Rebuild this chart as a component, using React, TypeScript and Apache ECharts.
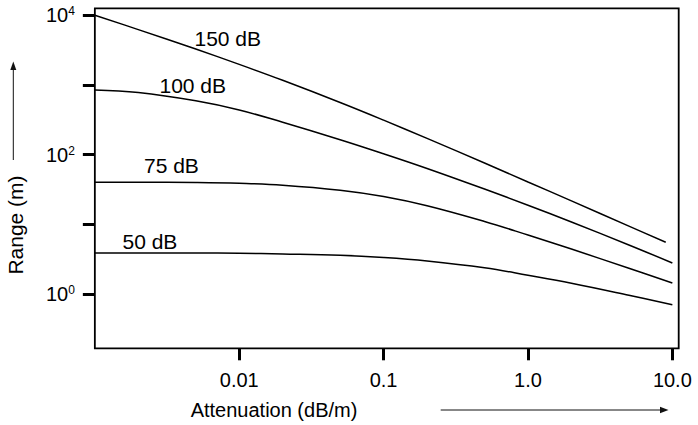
import { useEffect, useRef } from "react";
import * as echarts from "echarts";

// Attenuation (dB/m) sample points
const attenuation = [0.001, 0.002, 0.005, 0.01, 0.02, 0.05, 0.1, 0.2, 0.5, 1, 2, 5, 10];
const attenuation150 = [0.001, 0.002, 0.005, 0.01, 0.02, 0.05, 0.1, 0.2, 0.5, 1, 2, 5, 9];

// Range (m) for each loss level
const range150 = [10000, 6237, 3281, 1977, 1167, 561, 313, 171, 75.9, 40.6, 21.7, 9.44, 5.53];
const range100 = [847, 780, 593, 438, 292, 164, 103, 63.4, 32.1, 18.8, 10.8, 5.06, 2.79];
const range75 = [40.1, 40.1, 39.8, 38.8, 36.5, 30.9, 25.1, 18.5, 11.0, 7.03, 4.42, 2.34, 1.44];
const range50 = [3.87, 3.87, 3.87, 3.84, 3.75, 3.59, 3.34, 2.98, 2.38, 1.86, 1.43, 0.96, 0.7];

const seriesNames = ["150 dB", "100 dB", "75 dB", "50 dB"];

// Axis ticks
const xTickValues = [0.01, 0.1, 1, 10];
const xTickLabels = ["0.01", "0.1", "1.0", "10.0"];
const yTickValues = [1, 10, 100, 1000, 10000];
const yLabelValues = [1, 100, 10000];

const FONT = "'Liberation Sans', Arial, Helvetica, sans-serif";
const lg = (v: number) => Math.log10(v);

export default function App() {
  const ref = useRef<HTMLDivElement>(null);

  useEffect(() => {
    const chart = echarts.init(ref.current!, null, { renderer: "svg" });
    const mk = (xs: number[], ys: number[]) => xs.map((x, i) => [lg(x), lg(ys[i])]);
    const datasets = [
      mk(attenuation150, range150),
      mk(attenuation, range100),
      mk(attenuation, range75),
      mk(attenuation, range50),
    ];

    const xLabelMap: Record<string, string> = {};
    xTickValues.forEach((v, i) => (xLabelMap[String(Math.round(lg(v)))] = xTickLabels[i]));

    const curveLabel = (text: string, x: number, y: number) => ({
      type: "text",
      x,
      y,
      style: {
        text,
        fontSize: 21,
        fontFamily: FONT,
        fill: "#000",
        align: "left",
        verticalAlign: "middle",
        textAlign: "left",
        textVerticalAlign: "middle",
      },
    });

    chart.setOption({
      animation: false,
      grid: {
        left: 94.85,
        right: 19.3,
        top: 8.3,
        bottom: 76.7,
        show: true,
        borderColor: "#000",
        borderWidth: 1.8,
        backgroundColor: "transparent",
      },
      xAxis: {
        type: "value",
        min: -3,
        max: 1.044,
        axisLine: { show: false, onZero: false },
        splitLine: { show: false },
        axisTick: {
          show: true,
          inside: false,
          length: 12,
          customValues: xTickValues.map(lg),
          lineStyle: { color: "#000", width: 3 },
        },
        axisLabel: {
          customValues: xTickValues.map(lg),
          formatter: (v: number) => xLabelMap[String(Math.round(v))] ?? "",
          margin: 22,
          fontSize: 20,
          fontFamily: FONT,
          color: "#000",
        },
      },
      yAxis: {
        type: "value",
        min: -0.779,
        max: 4.1005,
        axisLine: { show: false, onZero: false },
        splitLine: { show: false },
        axisTick: {
          show: true,
          inside: false,
          length: 12,
          customValues: yTickValues.map(lg),
          lineStyle: { color: "#000", width: 3 },
        },
        axisLabel: {
          customValues: yLabelValues.map(lg),
          formatter: (v: number) => `{b|10}{s|${Math.round(v)}}`,
          margin: 20,
          rich: {
            b: { fontSize: 20, fontFamily: FONT, color: "#000", lineHeight: 20 },
            s: { fontSize: 12, fontFamily: FONT, color: "#000", lineHeight: 15, verticalAlign: "top" },
          },
        },
      },
      series: datasets.map((data, i) => ({
        name: seriesNames[i],
        type: "line",
        data,
        showSymbol: false,
        symbol: "none",
        smooth: 0.4,
        lineStyle: { color: "#000", width: 1.5 },
        silent: true,
      })),
      graphic: [
        curveLabel(seriesNames[0], 194.5, 38.5),
        curveLabel(seriesNames[1], 159.5, 85.5),
        curveLabel(seriesNames[2], 144, 165.8),
        curveLabel(seriesNames[3], 122.5, 241.3),
        {
          type: "text",
          x: 274,
          y: 410,
          style: {
            text: "Attenuation (dB/m)",
            fontSize: 20,
            fontFamily: FONT,
            fill: "#000",
            align: "center",
            verticalAlign: "middle",
            textAlign: "center",
            textVerticalAlign: "middle",
          },
        },
        {
          type: "text",
          x: 15,
          y: 225,
          rotation: Math.PI / 2,
          style: {
            text: "Range (m)",
            fontSize: 21,
            fontFamily: FONT,
            fill: "#000",
            align: "center",
            verticalAlign: "middle",
            textAlign: "center",
            textVerticalAlign: "middle",
          },
        },
        {
          type: "line",
          shape: { x1: 13.3, y1: 160, x2: 13.3, y2: 68 },
          style: { stroke: "#111", lineWidth: 1 },
        },
        {
          type: "polygon",
          shape: { points: [[13.3, 61.5], [10.3, 70], [16.3, 70]] },
          style: { fill: "#111" },
        },
        {
          type: "line",
          shape: { x1: 440.7, y1: 410, x2: 662, y2: 410 },
          style: { stroke: "#111", lineWidth: 1 },
        },
        {
          type: "polygon",
          shape: { points: [[668.5, 410], [660, 406.8], [660, 413.2]] },
          style: { fill: "#111" },
        },
      ],
    });

    return () => chart.dispose();
  }, []);

  return (
    <div
      ref={ref}
      style={{ position: "absolute", left: 0, top: 0, width: 698, height: 425 }}
    />
  );
}
